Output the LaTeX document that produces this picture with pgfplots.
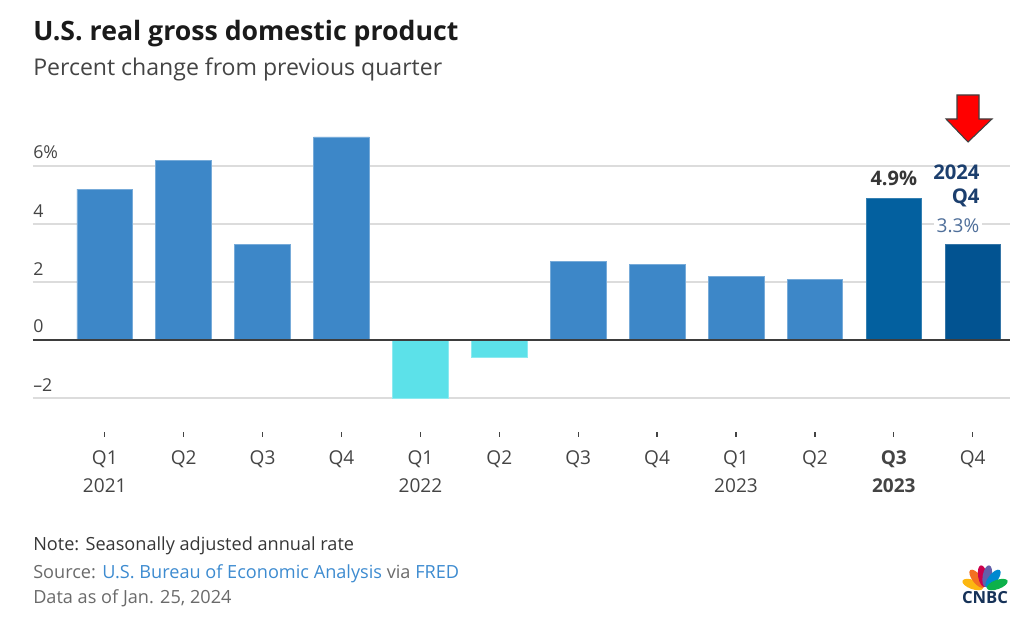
\documentclass[border=0pt]{standalone}
\usepackage{pgfplots}
\pgfplotsset{compat=1.18}
\usepackage{fontspec}
\setmainfont{Open Sans}
\definecolor{barblue}{HTML}{3D87C8}
\definecolor{barcyan}{HTML}{5CE1E9}
\definecolor{barq3}{HTML}{03609F}
\definecolor{barq4}{HTML}{025391}
\definecolor{gridgray}{HTML}{DCDCDC}
\definecolor{ticktext}{HTML}{444444}
\definecolor{titletext}{HTML}{1A1A1A}
\definecolor{navytext}{HTML}{1C3F6E}
\definecolor{steeltext}{HTML}{4F6F9A}
\definecolor{foot}{HTML}{6A6A6A}
\definecolor{linkblue}{HTML}{3D8BD0}
\begin{document}
\begin{tikzpicture}
\path[use as bounding box] (0pt,0pt) rectangle (768pt,462.75pt);
\begin{axis}[
  at={(24.75pt,135pt)}, anchor=south west,
  x=59.175pt, y=21.75pt,
  xmin=-0.91, xmax=11.47, ymin=-3.345, ymax=7.4,
  axis line style={draw=none},
  clip=false,
  ybar, bar width=41.8pt, bar shift=0pt,
  xtick={0,...,11},
  xticklabels={{Q1\\2021},{Q2},{Q3},{Q4},{Q1\\2022},{Q2},{Q3},{Q4},{Q1\\2023},{Q2},{\textbf{Q3}\\\textbf{2023}},{Q4}},
  xtick pos=lower, tick align=inside, major tick length=3.75pt,
  x tick style={color=ticktext, line width=1pt},
  xticklabel style={align=center, text=ticktext, font=\fontsize{14.3}{20.5}\selectfont, yshift=-7pt},
  ytick={-2,0,2,4,6},
  yticklabels={\textendash2,0,2,4,6\%},
  ytick pos=left,
  y tick style={draw=none},
  yticklabel style={anchor=south west, inner sep=0pt, yshift=5pt, text=ticktext, font=\fontsize{13.3}{16}\selectfont},
  ymajorgrids, y grid style={color=gridgray, line width=1.4pt},
]
\addplot[fill=barblue, draw=barblue!70!white, line width=0.5pt] coordinates {(0,5.2) (1,6.2) (2,3.3) (3,7.0) (6,2.7) (7,2.6) (8,2.2) (9,2.1)};
\addplot[fill=barcyan, draw=barcyan!70!white, line width=0.5pt] coordinates {(4,-2.0) (5,-0.6)};
\addplot[fill=barq3, draw=barq3!80!white, line width=0.5pt] coordinates {(10,4.9)};
\addplot[fill=barq4, draw=barq4!80!white, line width=0.5pt] coordinates {(11,3.3)};
\draw[color=ticktext!90!black, line width=1.3pt] (axis cs:-0.91,0) -- (axis cs:11.47,0);
\node[anchor=base, inner sep=0pt, text=ticktext!80!black, font=\fontsize{15}{18}\selectfont\bfseries] at (axis cs:10,5.34) {4.9\%};
\node[anchor=base east, inner sep=0pt, text=navytext, font=\fontsize{15.2}{18}\selectfont\bfseries] at (axis cs:11.09,5.52) {2024};
\node[anchor=base east, inner sep=0pt, text=navytext, font=\fontsize{15.2}{18}\selectfont\bfseries] at (axis cs:11.09,4.69) {Q4};
\node[anchor=base east, inner sep=2pt, fill=white, text=steeltext, font=\fontsize{14.3}{18}\selectfont] at (axis cs:11.12,3.72) {3.3\%};
\end{axis}
\begin{scope}[x=0.75pt,y=0.75pt]
% titles
\node[anchor=base west, inner sep=0pt, text=titletext, font=\fontsize{20}{24}\selectfont\bfseries] at (33,576.3) {U.S. real gross domestic product};
\node[anchor=base west, inner sep=0pt, text=ticktext, font=\fontsize{17.3}{20}\selectfont] at (33,541.3) {Percent change from previous quarter};
% red arrow
\filldraw[fill=red, draw=black!75, line width=0.8pt, line join=miter]
  (957,522) -- (979,522) -- (979,498) -- (992,498) -- (968,475) -- (946,498) -- (957,498) -- cycle;
% footer
\node[anchor=base west, inner sep=0pt, text=ticktext!80!black, font=\fontsize{13.6}{15}\selectfont] at (33,66.3) {Note: Seasonally adjusted annual rate};
\node[anchor=base west, inner sep=0pt, text=foot, font=\fontsize{13.6}{15}\selectfont] at (33,38) {Source: \textcolor{linkblue}{U.S. Bureau of Economic Analysis} via \textcolor{linkblue}{FRED}};
\node[anchor=base west, inner sep=0pt, text=foot, font=\fontsize{13.6}{15}\selectfont] at (33,13) {Data as of Jan. 25, 2024};
% CNBC logo
\begin{scope}[shift={(985,28)}]
  \foreach \ang/\col in {160/FCB711,128/F37021,100/CC004C,80/6460AA,52/0089D0,20/0DB14B}{
    \definecolor{fc}{HTML}{\col}
    \fill[fc, rotate=\ang] (13,0) ellipse (11 and 4.6);
  }
\end{scope}
\node[anchor=base, inner sep=0pt, text=navytext!80!black, font=\fontsize{12.5}{14}\selectfont\bfseries] at (985,13) {CNBC};
\end{scope}
\end{tikzpicture}
\end{document}
